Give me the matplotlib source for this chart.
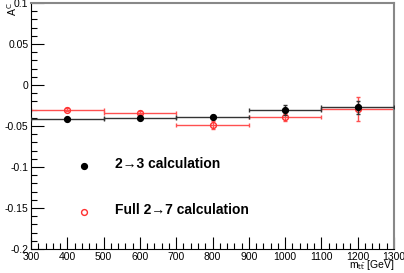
import numpy as np
import matplotlib
matplotlib.use("Agg")
import matplotlib.pyplot as plt
from matplotlib.ticker import MultipleLocator

plt.rcParams['font.family'] = ['Liberation Sans', 'DejaVu Sans']

# valores
m_tt = [400, 600, 800, 1000, 1200]
bin_meia = [100, 100, 100, 100, 100]
ac_2to3 = [-0.0415, -0.0400, -0.0386, -0.0310, -0.0272]
err_2to3 = [0.0012, 0.0012, 0.0025, 0.0060, 0.0080]
ac_2to7 = [-0.0301, -0.0338, -0.0484, -0.0394, -0.0297]
err_2to7 = [0.0015, 0.0020, 0.0050, 0.0050, 0.0145]

fig = plt.figure(figsize=(4.04, 2.73), dpi=100)
ax = fig.add_axes([0.077, 0.088, 0.898, 0.901])

ax.errorbar(m_tt, ac_2to7, xerr=bin_meia, yerr=err_2to7, fmt='o', color='#ff5050',
            mfc='none', mec='#ff3030', ms=4.2, mew=1.0, elinewidth=1.0, capsize=1.5, zorder=2)
ax.errorbar(m_tt, ac_2to3, xerr=bin_meia, yerr=err_2to3, fmt='o', color='#333333',
            mfc='black', mec='black', ms=4.2, elinewidth=1.0, capsize=1.5, zorder=3)

ax.set_xlim(300, 1300)
ax.set_ylim(-0.2, 0.1)
ax.xaxis.set_major_locator(MultipleLocator(100))
ax.xaxis.set_minor_locator(MultipleLocator(20))
ax.yaxis.set_minor_locator(MultipleLocator(0.01))
ax.set_yticks([0.1, 0.05, 0, -0.05, -0.1, -0.15, -0.2])
ax.set_yticklabels(['0.1', '0.05', '0', '-0.05', '-0.1', '-0.15', '-0.2'])
ax.tick_params(which='both', direction='in', top=False, right=False, labelsize=7.5, pad=2)
ax.tick_params(which='major', length=9, width=0.8)
ax.tick_params(which='minor', length=4.5, width=0.8)
for lado in ['top', 'right']:
    ax.spines[lado].set_color('#888888')
    ax.spines[lado].set_linewidth(1.5)

# legenda feita a mao
ax.plot([445], [-0.0985], 'o', color='black', ms=4.2)
ax.text(0.23, 0.345, '2→3 calculation', transform=ax.transAxes, fontsize=10,
        fontweight='bold', va='center')
ax.plot([445], [-0.1545], 'o', mfc='none', mec='#ff3030', ms=4.2)
ax.text(0.23, 0.157, 'Full 2→7 calculation', transform=ax.transAxes, fontsize=10,
        fontweight='bold', va='center')

fig.text(0.977, 0.002, r'm$_{\mathrm{t\bar{t}}}$ [GeV]', ha='right', va='bottom', fontsize=7.5)
fig.text(0.012, 0.99, r'A$^{\mathrm{C}}$', rotation=90, ha='left', va='top', fontsize=7.5)

fig.savefig('out.png', dpi=100)
